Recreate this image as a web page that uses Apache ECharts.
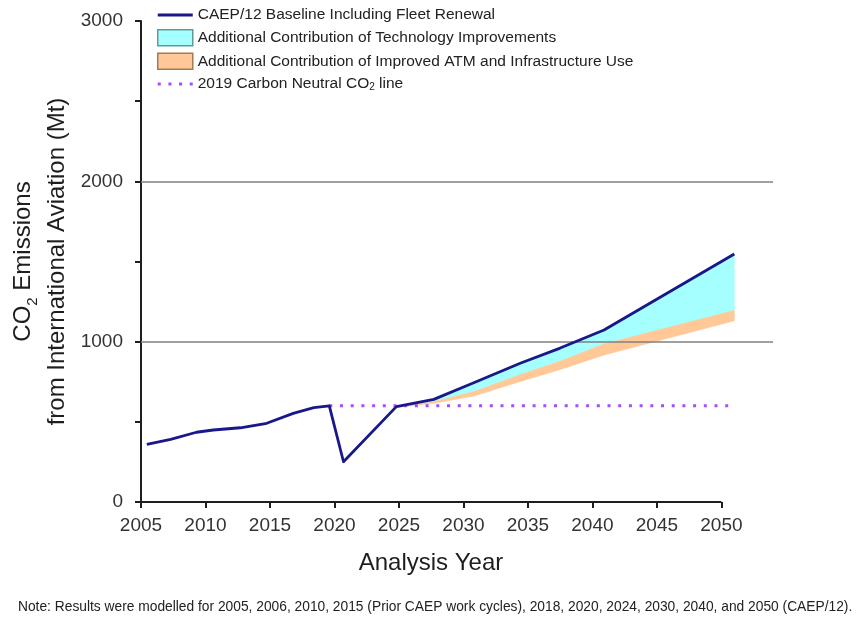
<!DOCTYPE html>
<html>
<head>
<meta charset="utf-8">
<script src="https://cdn.jsdelivr.net/npm/echarts@6/dist/echarts.min.js"></script>
<style>
  html, body { margin: 0; padding: 0; background: #ffffff; }
  #chart { width: 857px; height: 619px; }
</style>
</head>
<body>
<div id="chart"></div>
<script>
// Baseline CO2 emissions from international aviation (Mt)
const baselineYears  = [2005.45, 2007.3, 2009.3, 2010.6, 2012.7, 2014.75, 2016.8, 2018.4, 2019.6, 2020.7, 2024.8, 2027.7, 2030.8, 2034.4, 2037.5, 2040.9, 2051];
const baselineValues = [360, 391, 435, 449, 463, 491, 553, 588, 600, 251, 595, 640, 744, 865, 960, 1073, 1547];

// Scenario bands (upper edge of each band follows the curve above it)
const bandYears  = [2024.8, 2027.7, 2030.8, 2034.4, 2037.5, 2040.9, 2051];
const techValues = [593, 626, 688, 794, 878, 985, 1195];   // baseline minus technology improvements
const atmValues  = [590, 616, 661, 752, 826, 917, 1130];   // ... minus improved ATM and infrastructure use

// 2019 carbon-neutral level
const neutralYears  = [2019.6, 2051];
const neutralValues = [600, 600];

const xTickValues = [2005, 2010, 2015, 2020, 2025, 2030, 2035, 2040, 2045, 2050];
const yGridValues = [1000, 2000];

const NAME_BASE = 'CAEP/12 Baseline Including Fleet Renewal';
const NAME_TECH = 'Additional Contribution of Technology Improvements';
const NAME_ATM  = 'Additional Contribution of Improved ATM and Infrastructure Use';
const NAME_NEUT = '2019 Carbon Neutral CO2 line';
const NOTE_TEXT = 'Note: Results were modelled for 2005, 2006, 2010, 2015 (Prior CAEP work cycles), 2018, 2020, 2024, 2030, 2040, and 2050 (CAEP/12).';

const FONT = '"Liberation Sans", Arial, Helvetica, sans-serif';
const AXIS_COLOR = '#1e1e1e';
const BASE_COLOR = '#18188a';
const NEUT_COLOR = '#a64cff';
const TECH_COLOR = '#a6ffff';
const ATM_COLOR  = '#ffc896';

const baselineTop = bandYears.map(y => baselineValues[baselineYears.indexOf(y)]);
const techBand = bandYears.map((y, i) => [y, techValues[i], baselineTop[i]]);
const atmBand  = bandYears.map((y, i) => [y, atmValues[i], techValues[i]]);

// One closed polygon per band: upper edge left-to-right, lower edge back.
function bandRenderer(fill) {
  return function (params, api) {
    if (params.dataIndexInside !== 0) return null;
    const n = params.dataInsideLength;
    const upper = [], lower = [];
    for (let i = 0; i < n; i++) {
      const x = api.value(0, i);
      upper.push(api.coord([x, api.value(2, i)]));
      lower.push(api.coord([x, api.value(1, i)]));
    }
    return {
      type: 'polygon',
      shape: { points: upper.concat(lower.reverse()) },
      style: { fill: fill, stroke: fill, lineWidth: 0.6 }
    };
  };
}

// Legend glyphs: a solid bar and a row of four dots
const SOLID_ICON = 'path://M0,0H35V3H0Z';
const DOTS_ICON  = 'path://M0,0H3V3H0Z M10.67,0H13.67V3H10.67Z M21.33,0H24.33V3H21.33Z M32,0H35V3H32Z';

// Size the footnote so it spans the page width.
const measureCtx = document.createElement('canvas').getContext('2d');
measureCtx.font = '12px ' + FONT;
const noteSize = Math.min(14, 12 * 835 / measureCtx.measureText(NOTE_TEXT).width);

const chart = echarts.init(document.getElementById('chart'), null, { renderer: 'canvas' });

chart.setOption({
  animation: false,
  backgroundColor: '#ffffff',
  textStyle: { fontFamily: FONT },
  grid: { left: 141, right: 84, top: 21, bottom: 117, containLabel: false },
  legend: {
    orient: 'vertical',
    left: 157,
    top: 7,
    padding: 0,
    itemWidth: 35,
    itemHeight: 16,
    itemGap: 6,
    selectedMode: false,
    textStyle: {
      fontFamily: FONT, fontSize: 15.5, color: '#222222', lineHeight: 16,
      rich: { s: { fontFamily: FONT, fontSize: 10, lineHeight: 8, verticalAlign: 'bottom', color: '#222222' } }
    },
    formatter: name => name === NAME_NEUT ? '2019 Carbon Neutral CO{s|2} line' : name,
    data: [
      { name: NAME_BASE, icon: SOLID_ICON, itemStyle: { color: BASE_COLOR, borderWidth: 0 } },
      { name: NAME_TECH, icon: 'rect', itemStyle: { color: TECH_COLOR, borderColor: '#5f9a9a', borderWidth: 1.5 } },
      { name: NAME_ATM,  icon: 'rect', itemStyle: { color: ATM_COLOR, borderColor: '#a87a50', borderWidth: 1.5 } },
      { name: NAME_NEUT, icon: DOTS_ICON, itemStyle: { color: NEUT_COLOR, borderWidth: 0 } }
    ]
  },
  xAxis: {
    type: 'value',
    min: 2005,
    max: 2054,
    interval: 5,
    name: 'Analysis Year',
    nameLocation: 'middle',
    nameGap: 49,
    nameTextStyle: { fontFamily: FONT, fontSize: 24, color: '#1e1e1e', padding: [0, 52, 0, 0] },
    axisLine: { show: false },
    axisTick: { show: true, customValues: xTickValues, length: 6, inside: false, lineStyle: { color: AXIS_COLOR, width: 2 } },
    axisLabel: {
      customValues: xTickValues, fontFamily: FONT, fontSize: 19, color: '#333333', margin: 14,
      formatter: v => String(v)
    },
    splitLine: { show: false }
  },
  yAxis: {
    type: 'value',
    min: 0,
    max: 3000,
    interval: 500,
    name: '{m|CO}{s|2}{m| Emissions}\n{m|from International Aviation (Mt)}',
    nameLocation: 'middle',
    nameRotate: 90,
    nameGap: 62,
    nameTextStyle: {
      fontFamily: FONT, color: '#1e1e1e',
      rich: {
        m: { fontFamily: FONT, fontSize: 24, lineHeight: 34, color: '#1e1e1e' },
        s: { fontFamily: FONT, fontSize: 15, lineHeight: 20, verticalAlign: 'bottom', color: '#1e1e1e' }
      }
    },
    axisLine: { show: true, lineStyle: { color: AXIS_COLOR, width: 2 } },
    axisTick: { show: true, length: 6, inside: false, lineStyle: { color: AXIS_COLOR, width: 2 } },
    axisLabel: {
      fontFamily: FONT, fontSize: 19, color: '#333333', margin: 18,
      formatter: v => (v % 1000 === 0 ? String(v) : '')
    },
    splitLine: { show: false }
  },
  series: [
    {
      name: NAME_TECH,
      type: 'custom',
      z: 2,
      itemStyle: { color: TECH_COLOR },
      encode: { x: 0, y: [1, 2] },
      renderItem: bandRenderer(TECH_COLOR),
      data: techBand,
      silent: true
    },
    {
      name: NAME_ATM,
      type: 'custom',
      z: 3,
      itemStyle: { color: ATM_COLOR },
      encode: { x: 0, y: [1, 2] },
      renderItem: bandRenderer(ATM_COLOR),
      data: atmBand,
      silent: true
    },
    {
      name: NAME_NEUT,
      type: 'line',
      z: 8,
      symbol: 'none',
      lineStyle: { color: NEUT_COLOR, width: 3, type: [3, 7.7], cap: 'butt' },
      itemStyle: { color: NEUT_COLOR },
      data: neutralYears.map((y, i) => [y, neutralValues[i]]),
      silent: true
    },
    {
      name: NAME_BASE,
      type: 'line',
      z: 10,
      symbol: 'none',
      smooth: false,
      lineStyle: { color: BASE_COLOR, width: 2.8, join: 'round' },
      itemStyle: { color: BASE_COLOR },
      data: baselineYears.map((y, i) => [y, baselineValues[i]]),
      silent: true,
      markLine: {
        silent: true,
        symbol: 'none',
        label: { show: false },
        data: yGridValues.map(v => ({ yAxis: v, lineStyle: { color: '#808080', width: 1.5, type: 'solid' } })).concat([
          [
            { coord: [xTickValues[0], 0], lineStyle: { color: AXIS_COLOR, width: 2, type: 'solid' } },
            { coord: [xTickValues[xTickValues.length - 1], 0] }
          ]
        ])
      }
    }
  ],
  graphic: [
    {
      type: 'text',
      left: 18,
      top: 600,
      silent: true,
      style: { text: NOTE_TEXT, font: noteSize.toFixed(2) + 'px ' + FONT, fill: '#222222' }
    }
  ]
});
</script>
</body>
</html>
